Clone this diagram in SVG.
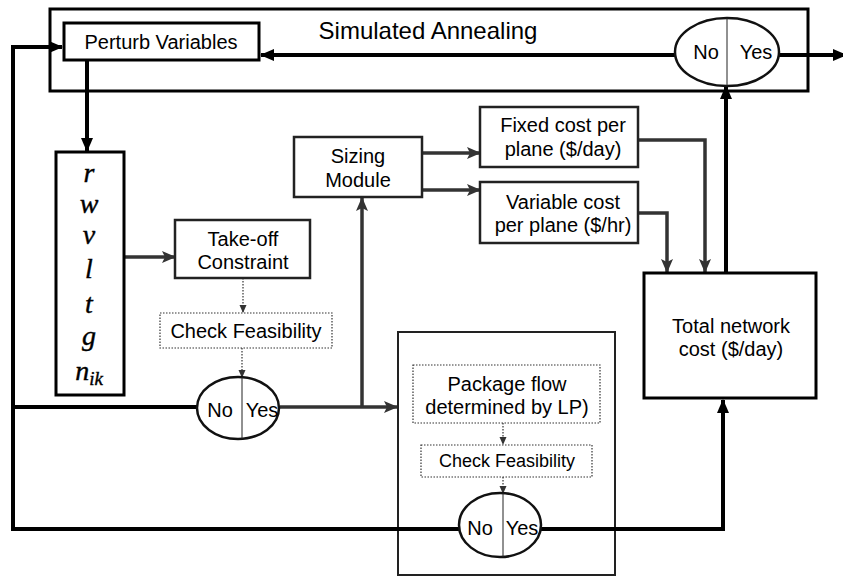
<svg xmlns="http://www.w3.org/2000/svg" width="843" height="576" viewBox="0 0 843 576">
<style>
  .t{font-family:"Liberation Sans",Arial,sans-serif;font-size:20px;fill:#000;text-anchor:middle}
  .m{font-family:"Liberation Serif","Times New Roman",serif;font-style:italic;font-size:28px;fill:#000;stroke:#000;stroke-width:0.4;text-anchor:middle}
  .box{fill:#fff;stroke:#000;stroke-width:3}
  .gbox{fill:#fff;stroke:#222;stroke-width:2.5}
  .dbox{fill:#fff;stroke:#333;stroke-width:1.2;stroke-dasharray:1.5 1.5}
  .ell{fill:#fff;stroke:#111;stroke-width:2.5}
  .div{stroke:#222;stroke-width:1;fill:none}
  .thick{fill:none;stroke:#000;stroke-width:4}
  .gray{fill:none;stroke:#333;stroke-width:3.5}
  .dot{fill:none;stroke:#333;stroke-width:1.2;stroke-dasharray:1.5 1.5}
</style>
<defs>
  <marker id="ab" markerUnits="userSpaceOnUse" markerWidth="14" markerHeight="14" viewBox="0 0 14 14" refX="13" refY="7" orient="auto">
    <path d="M0,1 L14,7 L0,13 Z" fill="#000"/>
  </marker>
  <marker id="ag" markerUnits="userSpaceOnUse" markerWidth="14" markerHeight="14" viewBox="0 0 14 14" refX="13" refY="7" orient="auto">
    <path d="M0,1 L14,7 L0,13 L3,7 Z" fill="#333"/>
  </marker>
  <marker id="as" markerUnits="userSpaceOnUse" markerWidth="8" markerHeight="8" viewBox="0 0 8 8" refX="7" refY="4" orient="auto">
    <path d="M0,0.5 L8,4 L0,7.5 Z" fill="#333"/>
  </marker>
</defs>

<g id="simulated-annealing">
  <rect class="box" x="50" y="9" width="758" height="82"/>
  <text class="t" x="428" y="39" style="font-size:24px">Simulated Annealing</text>
</g>

<g id="lp-block">
  <rect x="398" y="332" width="217" height="243" fill="none" stroke="#222" stroke-width="2"/>
</g>

<g id="connectors">
  <path class="thick" d="M675,55 L261,55" marker-end="url(#ab)"/>
  <path class="thick" d="M779,55 L846,55" marker-end="url(#ab)"/>
  <path class="thick" d="M459,529 L13,529 L13,47 L62,47" marker-end="url(#ab)"/>
  <path class="thick" d="M197,407 L13,407"/>
  <path class="thick" d="M87,60 L87,151" marker-end="url(#ab)"/>
  <path class="gray" d="M124,257 L175,257" marker-end="url(#ag)"/>
  <path class="dot" d="M243,278 L243,312" marker-end="url(#as)"/>
  <path class="dot" d="M242,348 L242,377" marker-end="url(#as)"/>
  <path class="gray" d="M280,407 L397,407" marker-end="url(#ag)"/>
  <path class="gray" d="M362,407 L362,198" marker-end="url(#ag)"/>
  <path class="gray" d="M422,153 L480,153" marker-end="url(#ag)"/>
  <path class="gray" d="M422,190 L480,190" marker-end="url(#ag)"/>
  <path class="gray" d="M638,140 L705,140 L705,272" marker-end="url(#ag)"/>
  <path class="gray" d="M638,213 L667,213 L667,272" marker-end="url(#ag)"/>
  <path class="thick" d="M726,273 L726,86" marker-end="url(#ab)"/>
  <path class="dot" d="M503,423 L503,444" marker-end="url(#as)"/>
  <path class="dot" d="M503,477 L503,493" marker-end="url(#as)"/>
  <path class="thick" d="M541,529 L723,529 L723,400" marker-end="url(#ab)"/>
</g>

<g id="perturb-variables">
  <rect class="box" x="64" y="23" width="195" height="37"/>
  <text class="t" x="161" y="49">Perturb Variables</text>
</g>

<g id="decision-sa">
  <ellipse class="ell" cx="727" cy="52" rx="52" ry="34"/>
  <line class="div" x1="727" y1="18" x2="727" y2="86"/>
  <text class="t" x="706" y="59">No</text>
  <text class="t" x="756" y="59">Yes</text>
</g>

<g id="variables">
  <rect class="box" x="56" y="152" width="68" height="243"/>
  <text class="m" x="89" y="182">r</text>
  <text class="m" x="89" y="213">w</text>
  <text class="m" x="89" y="244">v</text>
  <text class="m" x="89" y="278">l</text>
  <text class="m" x="89" y="313">t</text>
  <text class="m" x="89" y="345">g</text>
  <text class="m" x="89" y="380">n<tspan style="font-size:19px" dy="5">ik</tspan></text>
</g>

<g id="takeoff">
  <rect class="gbox" x="175" y="220" width="135" height="58"/>
  <text class="t" x="243" y="246">Take-off</text>
  <text class="t" x="243" y="269">Constraint</text>
</g>

<g id="check-feasibility-1">
  <rect class="dbox" x="160" y="313" width="172" height="35"/>
  <text class="t" x="246" y="338">Check Feasibility</text>
</g>

<g id="decision-takeoff">
  <ellipse class="ell" cx="238" cy="408" rx="41" ry="31"/>
  <line class="div" x1="242" y1="377" x2="242" y2="439"/>
  <text class="t" x="220" y="417">No</text>
  <text class="t" x="262" y="417">Yes</text>
</g>

<g id="sizing-module">
  <rect class="gbox" x="294" y="137" width="128" height="60"/>
  <text class="t" x="358" y="163">Sizing</text>
  <text class="t" x="358" y="187">Module</text>
</g>

<g id="fixed-cost">
  <rect class="gbox" x="480" y="107" width="158" height="60"/>
  <text class="t" x="563" y="132">Fixed cost per</text>
  <text class="t" x="563" y="156">plane ($/day)</text>
</g>

<g id="variable-cost">
  <rect class="gbox" x="480" y="182" width="158" height="61"/>
  <text class="t" x="563" y="209">Variable cost</text>
  <text class="t" x="563" y="232">per plane ($/hr)</text>
</g>

<g id="total-cost">
  <rect class="box" x="644" y="273" width="172" height="125"/>
  <text class="t" x="731" y="333">Total network</text>
  <text class="t" x="731" y="356">cost ($/day)</text>
</g>

<g id="package-flow">
  <rect class="dbox" x="413" y="365" width="187" height="58"/>
  <text class="t" x="507" y="391">Package flow</text>
  <text class="t" x="507" y="414">determined by LP)</text>
</g>

<g id="check-feasibility-2">
  <rect class="dbox" x="421" y="445" width="171" height="32"/>
  <text class="t" x="507" y="467" style="font-size:18px">Check Feasibility</text>
</g>

<g id="decision-lp">
  <ellipse class="ell" cx="500" cy="525" rx="41" ry="32"/>
  <line class="div" x1="503" y1="493" x2="503" y2="557"/>
  <text class="t" x="480" y="535">No</text>
  <text class="t" x="522" y="535">Yes</text>
</g>
</svg>
